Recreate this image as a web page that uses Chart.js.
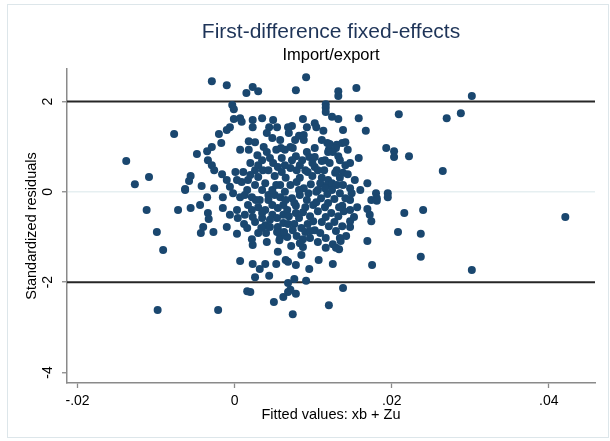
<!DOCTYPE html>
<html>
<head>
<meta charset="utf-8">
<script src="https://cdn.jsdelivr.net/npm/chart.js@4/dist/chart.umd.min.js"></script>
<style>
  html, body { margin: 0; padding: 0; background: #fff; }
</style>
</head>
<body>
<canvas id="grafico" width="610" height="441"></canvas>
<script>
//------ Datos: valores ajustados (xb + Zu) ------//
const fittedValues = [
  // arriba de la linea 2
  -0.0029,-0.0010,0.0023,0.0030,0.0015,0.0078,0.0091,0.0132,0.0132,0.0155,0.0302,
  // justo debajo de 2
  -0.0003,-0.0001,0.0116,0.0116,0.0116,0.0124,0.0132,0.0087,0.0102,0.0104,
  0.0092,0.0113,0.0138,0.0158,0.0167,0.0209,0.0270,0.0288,0.0073,-0.0001,
  0.0007,0.0009,0.0023,0.0035,0.0049,0.0054,0.0044,0.0041,0.0023,-0.0006,
  -0.0010,-0.0020,-0.0077,
  // zona positiva
  -0.0138,-0.0127,-0.0109,-0.0017,-0.0029,-0.0035,-0.0048,0.0007,0.0018,0.0026,
  0.0018,0.0029,-0.0034,-0.0029,-0.0026,-0.0056,-0.0058,-0.0063,-0.0042,-0.0026,
  -0.0016,-0.0010,0.0001,0.0003,-0.0006,0.0016,0.0037,0.0041,0.0045,0.0049,
  0.0055,0.0060,0.0064,0.0036,0.0030,0.0026,0.0039,0.0068,0.0071,0.0059,
  0.0074,0.0078,0.0092,0.0095,0.0102,0.0069,0.0077,0.0082,0.0088,0.0118,
  0.0120,0.0130,0.0115,0.0088,0.0121,0.0137,0.0141,0.0129,0.0125,0.0132,
  0.0119,0.0111,0.0102,0.0083,0.0079,0.0090,0.0093,0.0130,0.0128,0.0141,
  0.0147,0.0138,0.0144,0.0158,0.0169,0.0193,0.0203,0.0203,0.0222,0.0265,
  0.0111,0.0119,0.0109,0.0118,0.0124,0.0130,0.0147,0.0180,0.0195,0.0181,
  0.0174,0.0195,
  // derecha, zona negativa
  0.0216,0.0240,0.0421,0.0208,0.0237,0.0237,0.0302,0.0169,0.0175,0.0138,
  0.0120,0.0091,0.0095,0.0107,0.0125,0.0133,0.0135,0.0087,0.0085,0.0147,
  0.0147,0.0152,0.0174,0.0172,0.0169,0.0181,0.0076,0.0078,0.0074,0.0071,
  0.0137,0.0147,0.0149,0.0156,
  // izquierda, zona negativa
  -0.0112,-0.0072,-0.0056,-0.0099,-0.0091,-0.0098,-0.0021,0.0007,0.0023,0.0032,
  0.0039,0.0053,0.0044,0.0026,0.0016,0.0020,0.0050,0.0062,0.0068,0.0055,
  0.0065,0.0041,0.0023,0.0022,0.0030,0.0040,0.0003,-0.0010,-0.0027,-0.0043,
  -0.0040,-0.0034,-0.0033,-0.0044,-0.0035,-0.0015,-0.0015,-0.0006,0.0003,0.0004,
  0.0012,0.0017,0.0022,0.0030,0.0035,0.0039,0.0045,0.0054,0.0058,0.0067,
  0.0043,0.0051,0.0058,0.0039,0.0048,0.0054,0.0062,0.0067,0.0055,0.0062,
  -0.0063,-0.0002,0.0007,0.0013,0.0068,0.0057,0.0057,0.0087,0.0068,
  // nucleo denso
  0.0071,0.0079,0.0088,0.0097,0.0104,0.0083,0.0073,0.0092,0.0100,0.0110,
  0.0118,0.0127,0.0134,0.0141,0.0078,0.0087,0.0096,0.0106,0.0115,0.0123,
  0.0132,0.0139,0.0069,0.0076,0.0085,0.0093,0.0102,0.0111,0.0120,0.0129,
  0.0137,0.0142,0.0079,0.0096,0.0106,0.0116,0.0125,0.0072,0.0062,0.0064,
  0.0058,0.0048,0.0035,0.0026,0.0017,0.0011,0.0020,0.0030,0.0043,0.0051,
  0.0060,0.0071,0.0065,0.0053,0.0043,0.0032,0.0022,0.0013,0.0026,0.0034,
  0.0048,0.0083,0.0099,0.0114,0.0134,0.0153,0.0160,0.0116,0.0078,0.0048,
  0.0058,
  0.0106,0.0115,0.0124,0.0094,0.0082,0.0076,0.0090,0.0104,0.0119,0.0133,
  0.0082,0.0100,0.0116,0.0127,0.0090,0.0109,0.0134,0.0083,0.0096,0.0078,
  0.0068,0.0063,0.0074,0.0065,0.0055,0.0045,0.0035,0.0027,0.0016,0.0023,
  0.0086,0.0099,0.0106,0.0121,0.0134,0.0073,0.0064,0.0053,0.0035,0.0020,
  0.0009,0.0111,0.0102,0.0144,0.0138,0.0147,0.0129
];

//------ Datos: residuos estandarizados ------//
const stdResiduals = [
  2.45,2.36,2.32,2.23,2.19,2.25,2.54,2.23,2.12,2.30,2.12,
  1.92,1.83,1.94,1.86,1.77,1.66,1.61,1.61,1.52,1.43,
  1.43,1.35,1.37,1.63,1.35,1.72,1.63,1.74,1.46,1.61,
  1.63,1.55,1.59,1.63,1.59,1.43,1.43,1.30,1.43,1.43,
  1.37,1.28,1.28,
  0.68,0.17,0.33,1.08,0.99,0.90,0.84,0.93,1.12,1.10,
  0.93,0.81,0.70,0.59,0.48,0.35,0.24,0.06,0.13,0.08,
  0.39,0.26,0.44,0.26,0.11,0.04,0.99,0.88,0.75,0.64,
  0.55,0.75,0.93,0.48,0.33,0.48,0.19,1.43,0.99,0.97,
  0.97,0.79,0.88,0.77,0.77,1.30,1.15,1.24,1.26,1.08,
  0.93,1.04,0.70,1.15,1.06,1.08,1.10,0.97,0.88,0.79,
  0.88,0.68,0.55,0.59,0.48,0.48,0.44,0.48,0.42,0.59,
  0.64,0.42,0.39,0.75,0.19,0.97,0.90,0.77,0.79,0.46,
  0.31,0.26,0.19,0.15,0.19,0.15,0.08,-0.03,-0.03,-0.14,
  -0.18,-0.12,
  -0.47,-0.40,-0.56,-0.89,-0.93,-1.44,-1.73,-1.09,-1.62,-2.13,
  -2.51,-1.97,-1.71,-1.51,-1.60,-1.27,-1.09,-1.22,-1.40,-0.78,
  -0.65,-0.56,-0.65,-0.51,-0.38,-0.20,-1.93,-2.26,-2.71,-2.17,
  -0.31,-0.18,-0.03,-0.34,
  -0.40,-0.40,-0.36,-0.89,-1.29,-2.62,-2.62,-1.53,-1.60,-1.71,
  -1.60,-1.60,-1.86,-1.89,-2.20,-2.22,-2.44,-2.33,-2.22,-1.33,
  -1.51,-1.11,-1.18,-1.05,-0.91,-0.91,-0.93,-0.78,-0.89,-0.91,
  -0.78,-0.47,-0.60,-0.29,-0.12,-0.12,-0.36,-0.51,-0.40,-0.58,
  -0.71,-0.29,-0.12,-0.34,-0.58,-0.74,-0.78,-0.89,-1.00,-1.00,
  -0.07,-0.07,-0.12,-0.40,-0.51,-0.58,-0.51,-0.40,-0.78,-0.69,
  0.04,-0.03,-0.12,-0.07,-2.02,-1.07,-0.89,-1.05,-1.55,
  0.15,0.22,0.08,0.17,0.00,-0.07,-0.14,-0.18,-0.29,-0.14,
  -0.05,-0.16,-0.03,-0.14,-0.31,-0.45,-0.54,-0.43,-0.34,-0.47,
  -0.54,-0.43,-0.54,-0.71,-0.80,-0.71,-0.85,-0.67,-0.76,-0.87,
  -0.76,-0.98,-0.98,-1.02,-1.11,-1.02,-1.16,-1.20,-0.29,0.00,
  0.15,0.04,0.04,0.15,0.26,0.44,0.64,0.59,0.48,0.35,
  0.44,0.53,0.31,0.15,-0.18,-0.18,-0.40,-0.51,-0.67,-0.80,
  -0.29,0.31,0.35,0.48,0.31,0.26,0.04,-1.24,-1.62,1.19,
  1.15,
  0.04,0.08,0.04,-0.03,0.04,-0.25,-0.34,-0.23,-0.25,-0.34,
  -0.58,-0.65,-0.56,-0.67,-0.89,-0.91,-1.02,-1.14,-0.87,-0.47,
  -0.71,-0.89,-0.85,-0.18,-0.36,-0.62,-0.47,-0.18,-0.80,-0.56,
  0.70,0.64,0.48,0.64,0.70,0.70,0.59,0.93,0.70,0.37,
  0.22,1.15,0.97,0.93,0.15,-0.40,-1.24
];

//------ Ejes ------//
const xTickValues = [-0.02, 0, 0.02, 0.04];
const xTickLabels = ['-.02', '0', '.02', '.04'];
const yTickValues = [-4, -2, 0, 2];
const yTickLabels = ['-4', '-2', '0', '2'];
const xRange = [-0.02134, 0.04588];
const yRange = [-4.234, 2.72];
const refLines = [2, -2];

const fuente = "'Liberation Sans', Arial, sans-serif";
const navy = '#1a476f';
const grisEje = '#8a8a8a';

let puntos = fittedValues.map(function (x, i) {
  return { x: x, y: stdResiduals[i] };
});

let lineas = refLines.map(function (v) {
  return {
    type: 'line',
    data: [{ x: xRange[0], y: v }, { x: xRange[1], y: v }],
    borderColor: '#262626',
    borderWidth: 2,
    pointRadius: 0,
    order: 1
  };
});

//------ Marco exterior ------//
const marco = {
  id: 'marco',
  beforeDraw: function (chart) {
    const c = chart.ctx;
    c.save();
    c.fillStyle = '#ffffff';
    c.fillRect(0, 0, chart.width, chart.height);
    c.strokeStyle = '#dde6ea';
    c.lineWidth = 1;
    c.strokeRect(7.5, 4.5, 601, 433);
    c.restore();
  }
};

let ctx = document.querySelector('#grafico');
let grafico = new Chart(ctx, {
  type: 'scatter',
  data: {
    datasets: [{
      data: puntos,
      backgroundColor: navy,
      borderColor: navy,
      borderWidth: 0,
      pointRadius: 4,
      order: 0
    }].concat(lineas)
  },
  options: {
    responsive: false,
    animation: false,
    events: [],
    layout: { padding: { left: 0, right: 15, top: 0, bottom: 0 } },
    plugins: {
      legend: { display: false },
      tooltip: { enabled: false },
      title: {
        display: true,
        text: 'First-difference fixed-effects',
        color: '#1e3458',
        font: { family: fuente, size: 21, weight: 'normal' },
        padding: { top: 19.4, bottom: 0 },
        fullSize: false
      },
      subtitle: {
        display: true,
        text: 'Import/export',
        color: '#000',
        font: { family: fuente, size: 16.5, weight: 'normal' },
        padding: { top: 0.5, bottom: 4.1 },
        fullSize: false
      }
    },
    scales: {
      x: {
        type: 'linear',
        min: xRange[0],
        max: xRange[1],
        afterBuildTicks: function (s) {
          s.ticks = xTickValues.map(function (v) { return { value: v }; });
        },
        afterFit: function (s) { s.height = 58; },
        ticks: {
          autoSkip: false,
          minRotation: 0,
          maxRotation: 0,
          padding: 5,
          color: '#000',
          font: { family: fuente, size: 14 },
          callback: function (v, i) { return xTickLabels[i]; }
        },
        grid: { drawOnChartArea: false, tickLength: 5, tickColor: grisEje, tickWidth: 1.3 },
        border: { color: grisEje, width: 1.5 },
        title: {
          display: true,
          text: 'Fitted values: xb + Zu',
          color: '#000',
          font: { family: fuente, size: 14.5 },
          padding: { top: 0, bottom: 17.3 }
        }
      },
      y: {
        type: 'linear',
        min: yRange[0],
        max: yRange[1],
        afterBuildTicks: function (s) {
          s.ticks = yTickValues.map(function (v) { return { value: v }; });
        },
        afterFit: function (s) { s.width = 67; },
        ticks: {
          autoSkip: false,
          minRotation: 90,
          maxRotation: 90,
          crossAlign: 'center',
          padding: 8,
          color: '#000',
          font: { family: fuente, size: 14 },
          callback: function (v, i) { return yTickLabels[i]; }
        },
        grid: {
          color: function (c) {
            return (c.tick && c.tick.value === 0) ? '#e6eff1' : 'rgba(0,0,0,0)';
          },
          lineWidth: 1.5,
          tickLength: 5,
          tickColor: grisEje,
          tickWidth: 1.3
        },
        border: { color: grisEje, width: 1.5 },
        title: {
          display: true,
          text: 'Standardized residuals',
          color: '#000',
          font: { family: fuente, size: 14.5 },
          padding: { top: 23.3, bottom: 0 }
        }
      }
    }
  },
  plugins: [marco]
});
</script>
</body>
</html>
